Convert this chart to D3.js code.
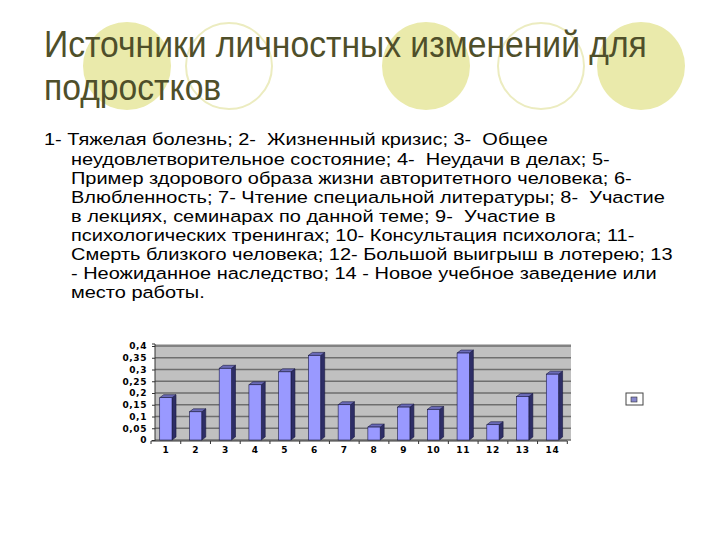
<!DOCTYPE html>
<html><head><meta charset="utf-8">
<script src="https://cdn.jsdelivr.net/npm/d3@7"></script>
<style>body{margin:0;background:#fff}svg{display:block}</style>
</head><body>
<svg id="c" width="720" height="540"></svg>
<script>
const categories = ["1","2","3","4","5","6","7","8","9","10","11","12","13","14"];
const values = [0.18,0.12,0.305,0.235,0.29,0.36,0.15,0.055,0.14,0.13,0.37,0.065,0.185,0.28];
const yTicks = [0,0.05,0.1,0.15,0.2,0.25,0.3,0.35,0.4];
const yTickLabels = ["0","0,05","0,1","0,15","0,2","0,25","0,3","0,35","0,4"];
const titleLines = ["Источники личностных изменений для","подростков"];
const bodyLines = [
 "1- Тяжелая болезнь; 2-  Жизненный кризис; 3-  Общее",
 "неудовлетворительное состояние; 4-  Неудачи в делах; 5-",
 "Пример здорового образа жизни авторитетного человека; 6-",
 "Влюбленность; 7- Чтение специальной литературы; 8-  Участие",
 "в лекциях, семинарах по данной теме; 9-  Участие в",
 "психологических тренингах; 10- Консультация психолога; 11-",
 "Смерть близкого человека; 12- Большой выигрыш в лотерею; 13",
 "- Неожиданное наследство; 14 - Новое учебное заведение или",
 "место работы."
];
const circles = [{cx:127,f:true},{cx:229,f:false},{cx:426,f:true},{cx:541,f:false},{cx:641,f:true}];

const svg = d3.select("#c");
const FONT = "Liberation Sans, Arial, sans-serif";
const CFONT = "DejaVu Sans, Verdana, sans-serif";

// decorative circles
svg.selectAll("circle.deco").data(circles).join("circle")
  .attr("cx",d=>d.cx).attr("cy",66).attr("r",d=>d.f?44:43)
  .attr("fill",d=>d.f?"#eaeaab":"none")
  .attr("stroke",d=>d.f?"none":"#ececc0").attr("stroke-width",2);

// title
const tg = svg.append("g");
tg.selectAll("text").data(titleLines).join("text")
  .attr("x",0).attr("y",(d,i)=>57+i*43)
  .attr("font-family",FONT)
  .attr("font-size",36).attr("fill","#4f4f2a").text(d=>d);
const tw = tg.select("text").node().getComputedTextLength();
tg.attr("transform",`translate(44,0) scale(${603/tw},1)`);

// body text (horizontally stretched like the reference)
const bg = svg.append("g");
const bt = bg.selectAll("text").data(bodyLines).join("text")
  .attr("y",(d,i)=>145.5+i*19.1)
  .attr("font-family",FONT)
  .attr("font-size",16.5).attr("fill","#000")
  .style("white-space","pre").text(d=>d);
const w7 = bt.nodes()[6].getComputedTextLength();
const s = 602/w7;
bt.attr("x",(d,i)=>i===0?0:(71-44)/s);
bg.attr("transform",`translate(44,0) scale(${s},1)`);

// chart
const x = d3.scaleBand().domain(categories).range([151,567.3]);
const y = d3.scaleLinear().domain([0,0.4]).range([440,346]);
const dx = 4, dy = 3;
const wallX0 = 155, wallX1 = 571;

svg.append("rect").attr("x",wallX0).attr("y",y(0.4)-2).attr("width",wallX1-wallX0)
  .attr("height",y(0)-y(0.4)+2).attr("fill","#c0c0c0");
svg.selectAll("line.grid").data(yTicks).join("line")
  .attr("x1",wallX0).attr("x2",wallX1).attr("y1",d=>y(d)).attr("y2",d=>y(d))
  .attr("stroke","#6e6e6e").attr("stroke-width",1.3);

// y axis
const yAxis = d3.axisLeft(y).tickValues(yTicks).tickSize(3)
  .tickFormat((d,i)=>yTickLabels[i]);
const ya = svg.append("g").attr("transform",`translate(${wallX0},0)`).call(yAxis);
ya.select(".domain").attr("stroke","#333").attr("d",`M-3,${y(0.4)-2}H0V${y(0)+1}`);
ya.selectAll("line").attr("stroke","#333");
ya.selectAll("text").attr("font-family",CFONT)
  .attr("font-size",9).attr("font-weight","bold").attr("fill","#000")
  .attr("letter-spacing",0.6).attr("dx",-2);

// x axis
const xAxis = d3.axisBottom(x).tickSize(0);
const xa = svg.append("g").attr("transform",`translate(0,${y(0)+1})`).call(xAxis);
xa.select(".domain").attr("stroke","#333").attr("d",`M151,0H567.3`);
xa.selectAll("text").attr("font-family",CFONT)
  .attr("font-size",9).attr("font-weight","bold").attr("fill","#000")
  .attr("letter-spacing",0.6).attr("dy","0.95em");
const bounds = categories.map(c=>x(c)).concat([567.3]);
xa.selectAll("line.b").data(bounds).join("line").attr("class","b")
  .attr("x1",d=>d).attr("x2",d=>d).attr("y1",0).attr("y2",3).attr("stroke","#333");

// bars
const bw = 12.3;
const bars = svg.append("g").selectAll("g").data(values).join("g");
const bx = (d,i)=>x(categories[i])+x.bandwidth()/2-bw/2;
bars.append("path").attr("fill","#2e2e66").attr("stroke","#1a1a40").attr("stroke-width",0.6)
  .attr("d",(d,i)=>{const a=bx(d,i)+bw,t=y(d),b=y(0);return `M${a},${t}L${a+dx},${t-dy}L${a+dx},${b-dy}L${a},${b}Z`;});
bars.append("path").attr("fill","#6b6bb8").attr("stroke","#1a1a40").attr("stroke-width",0.6)
  .attr("d",(d,i)=>{const a=bx(d,i),t=y(d);return `M${a},${t}L${a+dx},${t-dy}L${a+bw+dx},${t-dy}L${a+bw},${t}Z`;});
bars.append("rect").attr("x",bx).attr("y",d=>y(d)).attr("width",bw)
  .attr("height",d=>y(0)-y(d)).attr("fill","#9999ff").attr("stroke","#1a1a40").attr("stroke-width",0.6);

// legend
svg.append("rect").attr("x",626).attr("y",393).attr("width",17).attr("height",12)
  .attr("fill","#fff").attr("stroke","#444").attr("stroke-width",1);
svg.append("rect").attr("x",631).attr("y",397).attr("width",6).attr("height",5)
  .attr("fill","#8888cc").attr("stroke","#333").attr("stroke-width",0.6);
</script>
</body></html>
